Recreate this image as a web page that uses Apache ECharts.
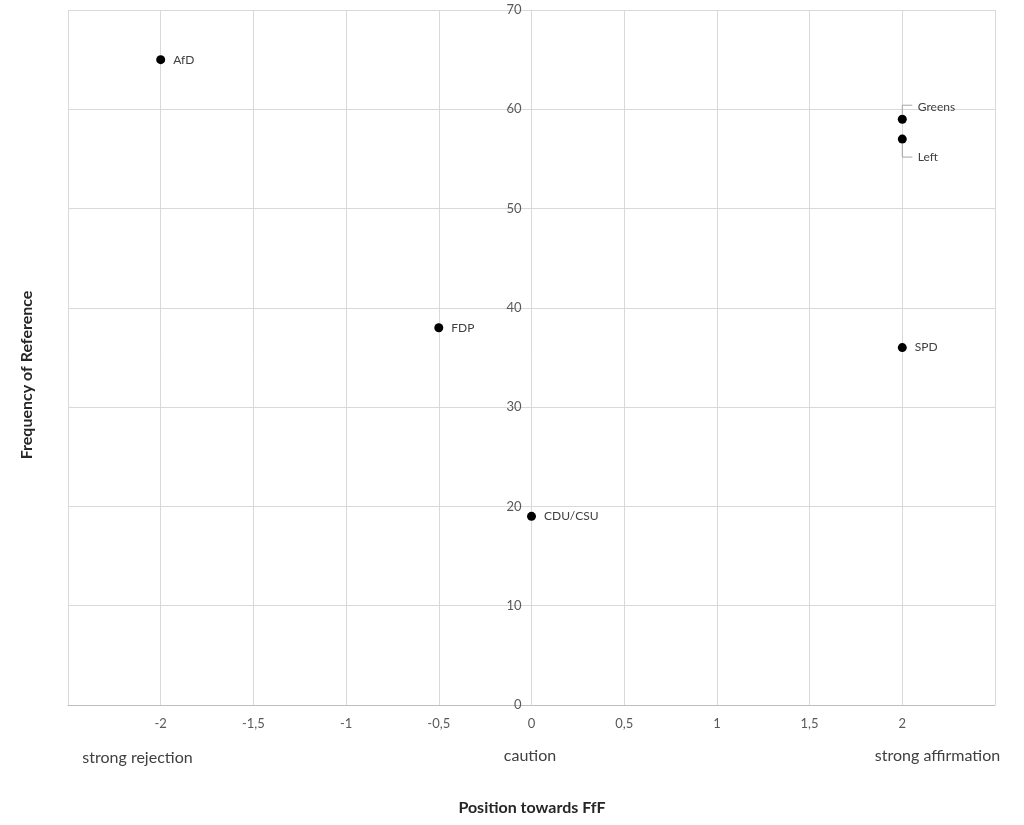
<!DOCTYPE html>
<html>
<head>
<meta charset="utf-8">
<script src="https://cdn.jsdelivr.net/npm/echarts@6/dist/echarts.min.js"></script>
<style>html,body{margin:0;padding:0;background:#fff;}#chart{width:1024px;height:825px;}</style>
</head>
<body>
<div id="chart"></div>
<script>
const parties = ['AfD', 'FDP', 'CDU/CSU', 'SPD', 'Greens', 'Left'];
const positions = [-2, -0.5, 0, 2, 2, 2];
const frequencies = [65, 38, 19, 36, 59, 57];
const scaleLabels = ['strong rejection', 'caution', 'strong affirmation'];
const xTitle = 'Position towards FfF';
const yTitle = 'Frequency of Reference';

const FONT = 'Lato';
// label displacement (pixels) and leader-line direction for crowded labels
const labelAdjust = {
  'Greens': { dy: -12, dir: -1, len: 14 },
  'Left': { dy: 18, dir: 1, len: 18 }
};

const data = parties.map((p, i) => ({ name: p, value: [positions[i], frequencies[i]] }));
const leaderData = parties
  .map((p, i) => labelAdjust[p] ? [positions[i], frequencies[i], labelAdjust[p].dir, labelAdjust[p].len] : null)
  .filter(d => d);

const chart = echarts.init(document.getElementById('chart'));
chart.setOption({
  animation: false,
  backgroundColor: '#ffffff',
  textStyle: { fontFamily: FONT },
  grid: { left: 68, right: 29, top: 10, bottom: 120 },
  xAxis: {
    type: 'value', min: -2.5, max: 2.5, interval: 0.5,
    axisLine: { show: true, onZero: false, lineStyle: { color: '#bfbfbf', width: 1 } },
    axisTick: { show: false },
    splitLine: { show: true, lineStyle: { color: '#d9d9d9', width: 1 } },
    axisLabel: {
      color: '#595959', fontSize: 13, fontFamily: FONT, margin: 12,
      showMinLabel: true, showMaxLabel: true,
      formatter: v => (Math.abs(v) > 2.01 ? '' : String(v).replace('.', ','))
    }
  },
  yAxis: {
    type: 'value', min: 0, max: 70, interval: 10,
    offset: -463.5,
    axisLine: { show: true, onZero: false, lineStyle: { color: '#d9d9d9', width: 1 } },
    axisTick: { show: false },
    splitLine: { show: true, lineStyle: { color: '#d9d9d9', width: 1 } },
    axisLabel: { color: '#595959', fontSize: 13, fontFamily: FONT, margin: 10 }
  },
  series: [{
    type: 'custom',
    data: leaderData,
    silent: true,
    z: 1,
    renderItem: function (params, api) {
      const c = api.coord([api.value(0), api.value(1)]);
      const dir = api.value(2), len = api.value(3);
      return {
        type: 'polyline',
        shape: { points: [[c[0], c[1] + dir * 5], [c[0], c[1] + dir * len], [c[0] + 10, c[1] + dir * len]] },
        style: { stroke: '#a6a6a6', lineWidth: 1, fill: null }
      };
    }
  }, {
    type: 'scatter',
    symbol: 'circle',
    symbolSize: 9,
    z: 3,
    itemStyle: { color: '#000000', opacity: 1 },
    data: data,
    label: {
      show: true, position: 'right', distance: 8,
      formatter: p => p.name,
      color: '#404040', fontSize: 12, fontFamily: FONT
    },
    labelLayout: function (params) {
      const adj = labelAdjust[parties[params.dataIndex]];
      if (adj) return { dx: 3, dy: adj.dy };
      return {};
    }
  }],
  graphic: [
    { type: 'text', x: 137.5, y: 758, style: { text: scaleLabels[0], fill: '#404040', font: '16px ' + FONT, align: 'center', verticalAlign: 'middle' } },
    { type: 'text', x: 530, y: 756, style: { text: scaleLabels[1], fill: '#404040', font: '16px ' + FONT, align: 'center', verticalAlign: 'middle' } },
    { type: 'text', x: 937.5, y: 756, style: { text: scaleLabels[2], fill: '#404040', font: '16px ' + FONT, align: 'center', verticalAlign: 'middle' } },
    { type: 'text', x: 532, y: 808, style: { text: xTitle, fill: '#262626', font: 'bold 16px ' + FONT, align: 'center', verticalAlign: 'middle' } },
    { type: 'text', x: 27, y: 375, rotation: Math.PI / 2, style: { text: yTitle, fill: '#262626', font: 'bold 16px ' + FONT, align: 'center', verticalAlign: 'middle' } }
  ]
});
</script>
</body>
</html>
